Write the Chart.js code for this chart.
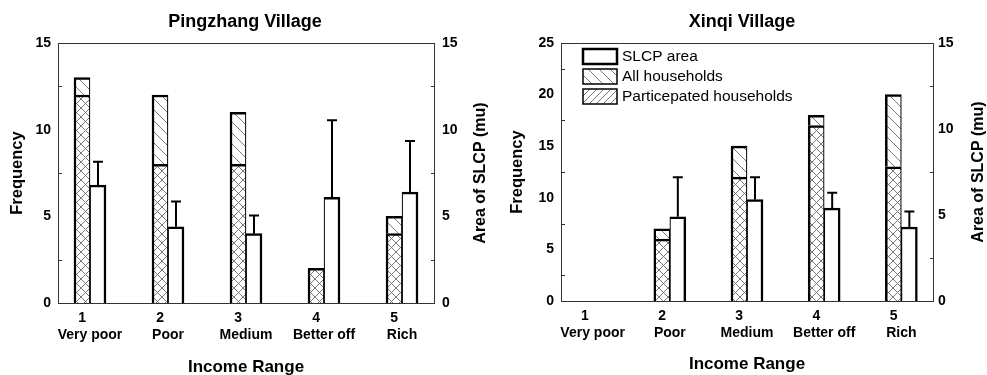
<!DOCTYPE html>
<html>
<head>
<meta charset="utf-8">
<script src="https://cdn.jsdelivr.net/npm/chart.js@4.4.1/dist/chart.umd.min.js"></script>
<style>
  html, body { margin: 0; padding: 0; background: #fff; }
  #wrap { position: relative; width: 987px; height: 375px; }
  .box { position: absolute; top: 0; width: 490px; height: 375px; }
</style>
</head>
<body>
<div id="wrap">
  <div class="box" style="left:0"><canvas id="ping"></canvas></div>
  <div class="box" style="left:497px"><canvas id="xinqi"></canvas></div>
</div>
<script>
const incomeLevels = [1, 2, 3, 4, 5]
const incomeNames = ['Very poor', 'Poor', 'Medium', 'Better off', 'Rich']
const seriesNames = ['SLCP area', 'All households', 'Particepated households']

// Pingzhang Village
const pingAll = [13, 12, 11, 2, 5]
const pingPart = [12, 8, 8, 2, 4]
const pingArea = [6.8, 4.4, 4.0, 6.1, 6.4]
const pingAreaErr = [1.35, 1.45, 1.05, 4.45, 2.95]

// Xinqi Village
const xinqiAll = [0, 7, 15, 18, 20]
const xinqiPart = [0, 6, 12, 17, 13]
const xinqiArea = [null, 4.9, 5.9, 5.4, 4.3]
const xinqiAreaErr = [null, 2.3, 1.3, 0.9, 0.9]

Chart.defaults.font.family = "'Liberation Sans', Arial, sans-serif"
Chart.defaults.color = '#000'

function hatch(ctx, dirs, size) {
  const c = document.createElement('canvas')
  c.width = size
  c.height = size
  const g = c.getContext('2d')
  g.fillStyle = '#fff'
  g.fillRect(0, 0, size, size)
  g.strokeStyle = '#6a6a6a'
  g.lineWidth = 0.9
  g.beginPath()
  for (let k = -1; k <= 2; k++) {
    if (dirs.includes('\\')) {
      g.moveTo(0, k * size)
      g.lineTo(size, k * size + size)
    }
    if (dirs.includes('/')) {
      g.moveTo(0, k * size)
      g.lineTo(size, k * size - size)
    }
  }
  g.stroke()
  return ctx.createPattern(c, 'repeat')
}

const deco = {
  id: 'deco',
  afterDatasetsDraw(chart, args, opts) {
    const { ctx, chartArea: a, scales } = chart
    ctx.save()

    // error bars (upper only)
    const meta = chart.getDatasetMeta(2)
    ctx.strokeStyle = '#000'
    ctx.lineWidth = 2
    meta.data.forEach((bar, i) => {
      const v = opts.area[i]
      const e = opts.err[i]
      if (v == null || e == null) return
      const top = scales.y2.getPixelForValue(v + e)
      ctx.beginPath()
      ctx.moveTo(bar.x, bar.y)
      ctx.lineTo(bar.x, top)
      ctx.moveTo(bar.x - 5, top)
      ctx.lineTo(bar.x + 5, top)
      ctx.stroke()
    })

    // frame
    ctx.strokeStyle = '#333'
    ctx.lineWidth = 1
    ctx.strokeRect(a.left + 0.5, a.top + 0.5, a.right - a.left, a.bottom - a.top)

    // inward minor ticks
    ctx.beginPath()
    for (let v = 2.5; v < scales.y.max; v += 5) {
      const y = Math.round(scales.y.getPixelForValue(v)) + 0.5
      ctx.moveTo(a.left, y)
      ctx.lineTo(a.left + 4, y)
    }
    for (let v = 2.5; v < scales.y2.max; v += 5) {
      const y = Math.round(scales.y2.getPixelForValue(v)) + 0.5
      ctx.moveTo(a.right + 1, y)
      ctx.lineTo(a.right - 3, y)
    }
    ctx.stroke()

    // right axis title, reading upward
    ctx.fillStyle = '#000'
    ctx.font = "bold 16px 'Liberation Sans', Arial, sans-serif"
    ctx.textAlign = 'center'
    ctx.textBaseline = 'middle'
    ctx.translate(opts.y2TitleX, (a.top + a.bottom) / 2)
    ctx.rotate(-Math.PI / 2)
    ctx.fillText('Area of SLCP (mu)', 0, 0)
    ctx.setTransform(1, 0, 0, 1, 0, 0)

    // legend inside the plot
    if (opts.legend) {
      const fills = ['#fff', opts.pats.back, opts.pats.fwd]
      const widths = [2.5, 1.5, 1.5]
      ctx.font = "15.5px 'Liberation Sans', Arial, sans-serif"
      ctx.textAlign = 'left'
      seriesNames.forEach((name, i) => {
        const x = a.left + 22
        const y = a.top + 6 + i * 20
        ctx.fillStyle = fills[i]
        ctx.fillRect(x, y, 34, 15)
        ctx.strokeStyle = '#000'
        ctx.lineWidth = widths[i]
        ctx.strokeRect(x, y, 34, 15)
        ctx.fillStyle = '#000'
        ctx.fillText(name, x + 39, y + 8)
      })
    }
    ctx.restore()
  }
}

function makeChart(id, cfg) {
  const ctx = document.getElementById(id).getContext('2d')
  const pats = {
    back: hatch(ctx, '\\', 11),
    fwd: hatch(ctx, '/', 7),
    cross: hatch(ctx, '\\/', 9)
  }
  const rest = cfg.all.map((v, i) => v - cfg.part[i])
  const tickFont = { size: 14, weight: 'bold' }
  const hhBorder = { top: 2.5, left: 2.5, right: 1.2, bottom: 0 }

  return new Chart(ctx, {
    type: 'bar',
    data: {
      labels: incomeLevels,
      datasets: [
        {
          label: seriesNames[2],
          data: cfg.part,
          stack: 'hh',
          yAxisID: 'y',
          backgroundColor: pats.cross,
          borderColor: '#000',
          borderWidth: hhBorder,
          barThickness: 16
        },
        {
          label: seriesNames[1],
          data: rest,
          stack: 'hh',
          yAxisID: 'y',
          backgroundColor: pats.back,
          borderColor: '#000',
          borderWidth: hhBorder,
          barThickness: 16
        },
        {
          label: seriesNames[0],
          data: cfg.area,
          stack: 'slcp',
          yAxisID: 'y2',
          backgroundColor: '#fff',
          borderColor: '#000',
          borderWidth: { top: 2.5, left: 1.2, right: 2.5, bottom: 0 },
          barThickness: 16
        }
      ]
    },
    options: {
      responsive: true,
      maintainAspectRatio: false,
      animation: false,
      plugins: {
        legend: { display: false },
        tooltip: { enabled: false },
        title: {
          display: true,
          text: cfg.title,
          font: { size: 18, weight: 'bold' },
          color: '#000',
          padding: { top: 11, bottom: 10.4 }
        },
        deco: {
          area: cfg.area,
          err: cfg.err,
          y2TitleX: cfg.y2TitleX,
          legend: cfg.legend,
          pats: pats
        }
      },
      scales: {
        x: {
          type: 'linear',
          min: 0.59,
          max: 5.41,
          offset: false,
          grid: { display: false, drawTicks: false },
          border: { display: false },
          afterBuildTicks: (s) => {
            s.ticks = incomeLevels.map((v) => ({ value: v }))
          },
          afterFit: (s) => {
            s.height = cfg.xHeight
          },
          ticks: {
            autoSkip: false,
            maxRotation: 0,
            padding: cfg.xPad,
            font: tickFont,
            color: '#000',
            callback: (v) => [v + '    ', incomeNames[incomeLevels.indexOf(v)]]
          },
          title: {
            display: true,
            text: 'Income Range',
            font: { size: 17, weight: 'bold' },
            color: '#000',
            padding: { top: 0, bottom: cfg.xTitlePad }
          }
        },
        y: {
          position: 'left',
          min: 0,
          max: cfg.yMax,
          grid: { display: false, drawTicks: false },
          border: { display: false },
          afterFit: (s) => {
            s.width = cfg.yWidth
          },
          ticks: { stepSize: 5, padding: 7, font: tickFont, color: '#000' },
          title: {
            display: true,
            text: 'Frequency',
            font: { size: 16.5, weight: 'bold' },
            color: '#000',
            padding: { top: cfg.yTitlePad, bottom: 0 }
          }
        },
        y2: {
          position: 'right',
          min: 0,
          max: 15,
          grid: { display: false, drawTicks: false },
          border: { display: false },
          afterFit: (s) => {
            s.width = cfg.y2Width
          },
          ticks: { stepSize: 5, padding: cfg.y2Pad, font: tickFont, color: '#000' }
        }
      }
    },
    plugins: [deco]
  })
}

makeChart('ping', {
  title: 'Pingzhang Village',
  all: pingAll,
  part: pingPart,
  area: pingArea,
  err: pingAreaErr,
  yMax: 15,
  yWidth: 58,
  y2Width: 56,
  xHeight: 72,
  xPad: 7,
  xTitlePad: -2.5,
  yTitlePad: 8,
  y2Pad: 8,
  y2TitleX: 481,
  legend: false
})

makeChart('xinqi', {
  title: 'Xinqi Village',
  all: xinqiAll,
  part: xinqiPart,
  area: xinqiArea,
  err: xinqiAreaErr,
  yMax: 25,
  yWidth: 64,
  y2Width: 54,
  xHeight: 74,
  xPad: 7,
  xTitlePad: 0,
  yTitlePad: 11,
  y2Pad: 5,
  y2TitleX: 482,
  legend: true
})
</script>
</body>
</html>
